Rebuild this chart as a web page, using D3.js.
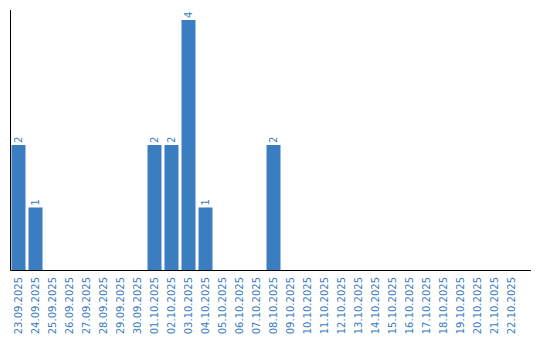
<!DOCTYPE html>
<html><head><meta charset="utf-8">
<script src="https://cdn.jsdelivr.net/npm/d3@7"></script>
<style>body{margin:0;background:#fff}svg{display:block}text{font-family:"DejaVu Sans",Verdana,sans-serif;font-size:10px;fill:#3a7dc1}</style>
</head><body>
<script>
const categories = ["23.09.2025","24.09.2025","25.09.2025","26.09.2025","27.09.2025","28.09.2025","29.09.2025","30.09.2025","01.10.2025","02.10.2025","03.10.2025","04.10.2025","05.10.2025","06.10.2025","07.10.2025","08.10.2025","09.10.2025","10.10.2025","11.10.2025","12.10.2025","13.10.2025","14.10.2025","15.10.2025","16.10.2025","17.10.2025","18.10.2025","19.10.2025","20.10.2025","21.10.2025","22.10.2025"];
const values = [2,1,0,0,0,0,0,0,2,2,4,1,0,0,0,2,0,0,0,0,0,0,0,0,0,0,0,0,0,0];

const W=540,H=340;
const svg=d3.select("body").append("svg").attr("width",W).attr("height",H);
const x=d3.scaleBand().domain(categories).range([10,520]).paddingInner(3/17).paddingOuter(1.5/17);
const y=d3.scaleLinear().domain([0,4]).range([270,20]);

svg.selectAll("rect.bar").data(values).join("rect").attr("class","bar")
  .attr("x",(d,i)=>x(categories[i])).attr("width",x.bandwidth())
  .attr("y",d=>y(d)).attr("height",d=>y(0)-y(d)).attr("fill","#3a7dc1");

svg.selectAll("text.val").data(values.map((v,i)=>({v,c:categories[i]})).filter(d=>d.v>0)).join("text").attr("class","val")
  .attr("transform",d=>`translate(${x(d.c)+x.bandwidth()/2+3.5},${y(d.v)-2}) rotate(-90)`)
  .text(d=>d.v);

const xAxis=d3.axisBottom(x).tickSize(0).tickPadding(0);
const gx=svg.append("g").attr("transform","translate(0,270)").call(xAxis);
gx.select(".domain").attr("d","M10.5,0.5H531").attr("stroke","#000");
gx.selectAll(".tick text").attr("transform","rotate(-90)").attr("text-anchor","end")
  .attr("x",-7).attr("y",0).attr("dy","0.35em").attr("fill","#3a7dc1").style("font-size","10px").style("font-family","DejaVu Sans");

svg.append("line").attr("x1",10.5).attr("x2",10.5).attr("y1",10).attr("y2",270.5).attr("stroke","#000");
</script>
</body></html>
